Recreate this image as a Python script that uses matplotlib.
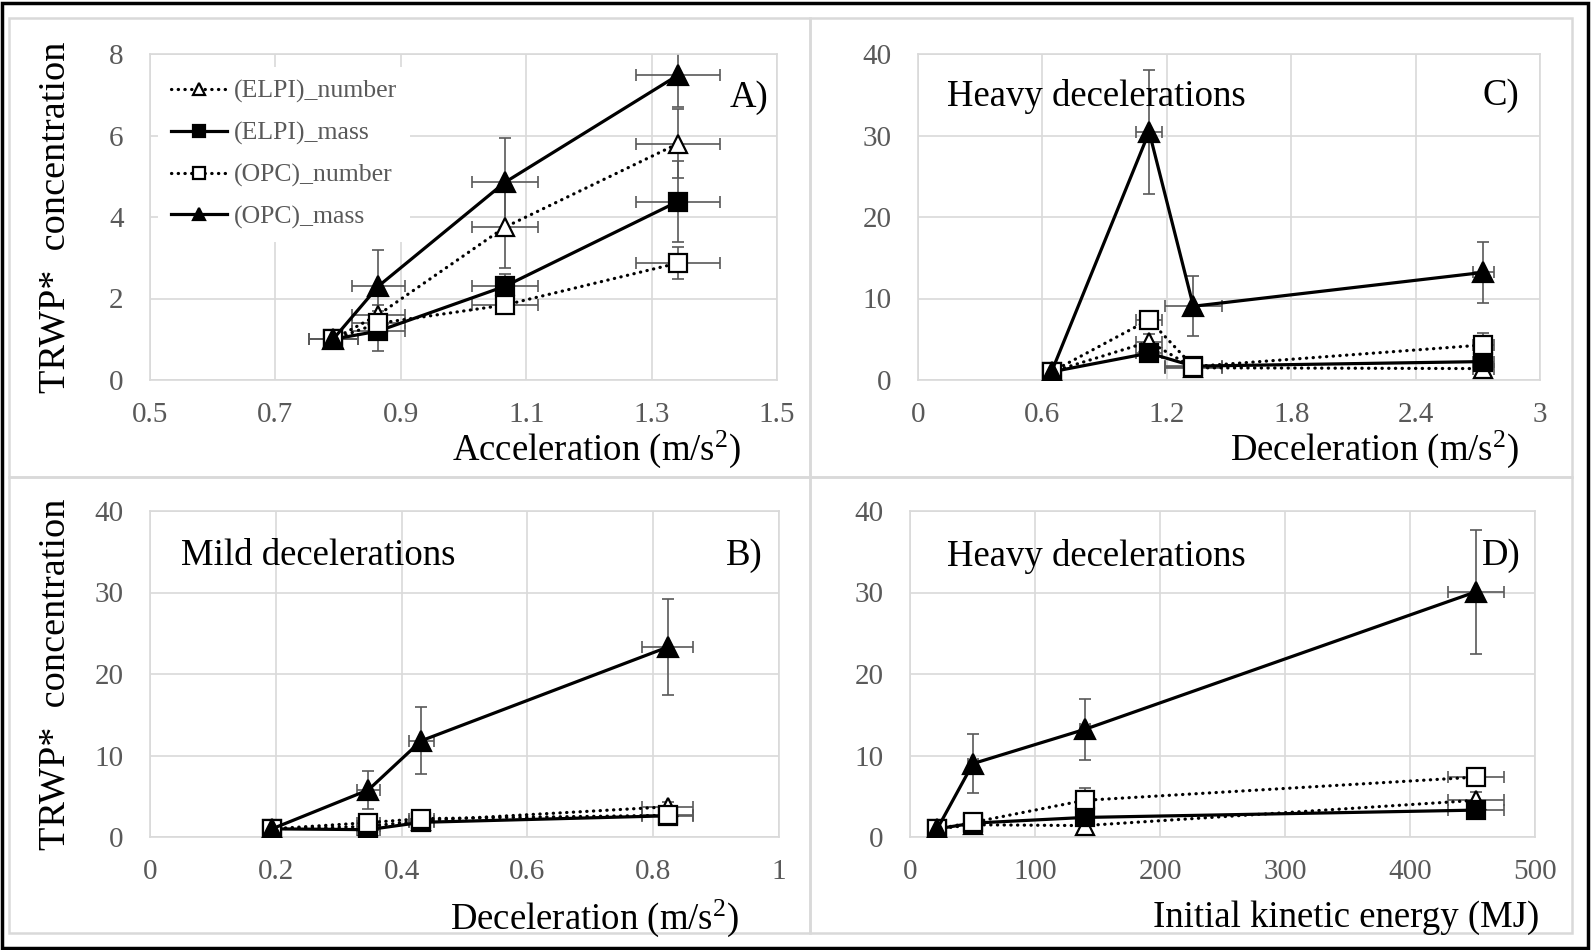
import numpy as np
import matplotlib.pyplot as plt
from matplotlib.patches import Rectangle
from matplotlib.ticker import FuncFormatter

plt.rcParams['font.family'] = ['Liberation Serif', 'DejaVu Serif']
plt.rcParams['mathtext.default'] = 'regular'

W, H = 1591, 950
GREY = '#595959'
GRID = '#d9d9d9'

series = ['(ELPI)_number', '(ELPI)_mass', '(OPC)_number', '(OPC)_mass']

# A) acceleration
acc_x = [0.792, 0.864, 1.066, 1.342]
acc_xerr = [0.039, 0.042, 0.053, 0.067]
acc_y = [[1.0, 1.6, 3.75, 5.8],
         [1.0, 1.2, 2.3, 4.38],
         [1.0, 1.39, 1.84, 2.87],
         [1.0, 2.3, 4.85, 7.48]]
acc_yerr = [[0.05, 0.25, 1.0, 0.85],
            [0.05, 0.5, 0.3, 1.0],
            [0.05, 0.15, 0.1, 0.39],
            [0.05, 0.9, 1.1, 0.78]]

# B) mild decelerations
mild_x = [0.194, 0.347, 0.431, 0.823]
mild_xerr = [0.01, 0.018, 0.02, 0.041]
mild_y = [[1.0, 1.3, 2.0, 3.7],
          [1.0, 0.9, 1.8, 2.6],
          [1.0, 1.76, 2.25, 2.66],
          [1.0, 5.77, 11.8, 23.3]]
mild_yerr = [[0.1, 0.3, 0.4, 0.6],
             [0.1, 0.3, 0.3, 0.5],
             [0.1, 0.3, 0.3, 0.5],
             [0.2, 2.3, 4.1, 5.9]]

# C) heavy decelerations vs deceleration
heavy_x = [0.644, 1.115, 1.328, 2.726]
heavy_xerr = [0.03, 0.063, 0.136, 0.05]
heavy_y = [[1.0, 4.7, 1.5, 1.4],
           [1.0, 3.3, 1.7, 2.26],
           [1.0, 7.4, 1.65, 4.3],
           [1.0, 30.45, 9.05, 13.2]]
heavy_yerr = [[0.2, 1.0, 0.3, 0.3],
              [0.2, 0.6, 0.3, 0.3],
              [0.2, 0.8, 0.3, 1.5],
              [0.3, 7.6, 3.7, 3.7]]

# D) heavy decelerations vs initial kinetic energy
ke_x = [21.8, 50.3, 139.7, 453.0]
ke_xerr = [3, 4, 4, 22.5]
ke_y = [[1.0, 1.5, 1.4, 4.5],
        [1.0, 1.7, 2.4, 3.3],
        [1.0, 1.8, 4.5, 7.35],
        [1.0, 9.0, 13.2, 30.1]]
ke_yerr = [[0.2, 0.3, 0.3, 1.0],
           [0.2, 0.3, 0.3, 0.6],
           [0.2, 0.3, 1.5, 0.8],
           [0.3, 3.6, 3.7, 7.6]]

styles = [dict(ls=(0, (0.1, 2)), marker='^', mfc='white', ms=13),
          dict(ls='-', marker='s', mfc='black', ms=13),
          dict(ls=(0, (0.1, 2)), marker='s', mfc='white', ms=13),
          dict(ls='-', marker='^', mfc='black', ms=14)]


def fx(x):
    return x / W


def fy(y):
    return 1 - y / H


fig = plt.figure(figsize=(W / 100, H / 100), dpi=100)

# panel boxes and outer frame
for l, t, r, b in [(9, 18, 810, 477), (810, 18, 1572, 477),
                   (9, 477, 810, 933), (810, 477, 1572, 933)]:
    fig.add_artist(Rectangle((fx(l), fy(b)), fx(r - l), (b - t) / H,
                             transform=fig.transFigure, fill=False,
                             ec=GRID, lw=1.8))
fig.add_artist(Rectangle((fx(2), fy(948)), fx(1586), 945 / H,
                         transform=fig.transFigure, fill=False,
                         ec='black', lw=2.5))


def make_ax(l, t, r, b, x, xerr, ys, yerrs, xlim, xticks, ylim, yticks):
    ax = fig.add_axes([fx(l), fy(b), fx(r - l), (b - t) / H])
    for i in range(4):
        ax.errorbar(x, ys[i], yerr=yerrs[i], xerr=xerr, fmt='none',
                    ecolor=GREY, elinewidth=1.2, capsize=4, capthick=1.2,
                    zorder=2)
    for i in range(4):
        st = styles[i]
        ax.plot(x, ys[i], color='black', lw=2.3, ls=st['ls'],
                dash_capstyle='round', marker=st['marker'], ms=st['ms'],
                mfc=st['mfc'], mec='black', mew=1.6, label=series[i],
                zorder=3 + i)
    ax.set_xlim(xlim)
    ax.set_ylim(ylim)
    ax.set_xticks(xticks)
    ax.set_yticks(yticks)
    fmt = FuncFormatter(lambda v, p: '{:g}'.format(round(v, 6)))
    ax.xaxis.set_major_formatter(fmt)
    ax.yaxis.set_major_formatter(fmt)
    ax.tick_params(length=0, labelsize=21, labelcolor=GREY)
    ax.tick_params(axis='x', pad=16)
    ax.tick_params(axis='y', pad=19)
    ax.grid(True, color=GRID, lw=1.2)
    ax.set_axisbelow(True)
    for sp in ax.spines.values():
        sp.set_color(GRID)
        sp.set_linewidth(1.2)
    return ax


axA = make_ax(150, 54, 777, 380, acc_x, acc_xerr, acc_y, acc_yerr,
              (0.5, 1.5), np.arange(0.5, 1.51, 0.2), (0, 8), range(0, 9, 2))
axC = make_ax(918, 54, 1540, 380, heavy_x, heavy_xerr, heavy_y, heavy_yerr,
              (0, 3), np.arange(0, 3.01, 0.6), (0, 40), range(0, 41, 10))
axB = make_ax(150, 511, 779, 837, mild_x, mild_xerr, mild_y, mild_yerr,
              (0, 1), np.arange(0, 1.01, 0.2), (0, 40), range(0, 41, 10))
axD = make_ax(910, 511, 1535, 837, ke_x, ke_xerr, ke_y, ke_yerr,
              (0, 500), range(0, 501, 100), (0, 40), range(0, 41, 10))

leg = axA.legend(loc='upper left', bbox_to_anchor=(fx(145), fy(54)),
                 bbox_transform=fig.transFigure, fontsize=18.5,
                 handlelength=2.2, handletextpad=0.25, labelspacing=0.72,
                 borderpad=0.5, markerscale=0.62, frameon=True,
                 facecolor='white', edgecolor='none', framealpha=1)
for t in leg.get_texts():
    t.set_color(GREY)

# y labels
for ax in (axA, axB):
    ax.set_ylabel('TRWP*  concentration', fontsize=27.5)
    ax.yaxis.set_label_coords(-0.123, 0.5)

# x labels
fig.text(fx(741), fy(449), 'Acceleration (m/s$^{2}$)', fontsize=26.5,
         ha='right', va='center')
fig.text(fx(1519), fy(449), 'Deceleration (m/s$^{2}$)', fontsize=26.5,
         ha='right', va='center')
fig.text(fx(739), fy(918), 'Deceleration (m/s$^{2}$)', fontsize=26.5,
         ha='right', va='center')
fig.text(fx(1539), fy(918), 'Initial kinetic energy (MJ)', fontsize=26.5,
         ha='right', va='center')

# panel annotations
fig.text(fx(768), fy(98), 'A)', fontsize=26.5, ha='right', va='center')
fig.text(fx(1519), fy(96), 'C)', fontsize=26.5, ha='right', va='center')
fig.text(fx(763), fy(556), 'B)', fontsize=26.5, ha='right', va='center')
fig.text(fx(1521), fy(556), 'D)', fontsize=26.5, ha='right', va='center')
fig.text(fx(947), fy(96), 'Heavy decelerations', fontsize=26.5,
         ha='left', va='center')
fig.text(fx(181), fy(556), 'Mild decelerations', fontsize=26.5,
         ha='left', va='center')
fig.text(fx(947), fy(556), 'Heavy decelerations', fontsize=26.5,
         ha='left', va='center')

fig.savefig('out.png', dpi=100, facecolor='white')
